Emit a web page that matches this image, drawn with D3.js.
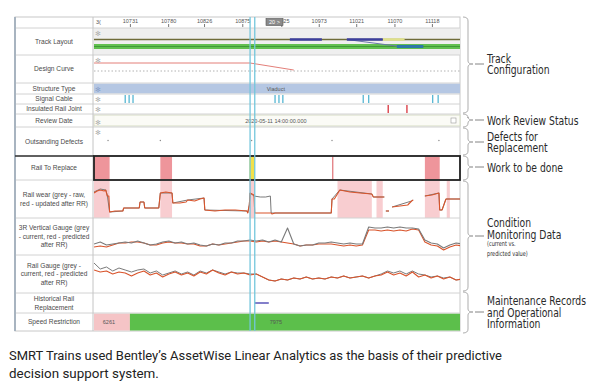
<!DOCTYPE html>
<html>
<head>
<meta charset="utf-8">
<script src="https://cdn.jsdelivr.net/npm/d3@7"></script>
<style>
    body { margin: 0; background: #fff; }
    svg { display: block; font-family: "Liberation Sans", Arial, sans-serif; }
</style>
</head>
<body>
<svg id="chart" width="600" height="388"></svg>
<script>
// ---- data (chainage in metres) ----
var rowLabels = [
    [],
    ["Track Layout"],
    ["Design Curve"],
    ["Structure Type"],
    ["Signal Cable"],
    ["Insulated Rail Joint"],
    ["Review Date"],
    ["Outsanding Defects"],
    ["Rail To Replace"],
    ["Rail wear (grey - raw,", "red - updated after RR)"],
    ["3R Vertical Gauge (grey", "- current, red - predicted", "after RR)"],
    ["Rail Gauge (grey -", "current, red - predicted", "after RR)"],
    ["Historical Rail", "Replacement"],
    ["Speed Restriction"]
];

var tickValues = [10731, 10780, 10826, 10875, 10925, 10973, 11021, 11070, 11118];
var cursorChainage = [10885, 10891];

var trackMainBlue = [[10936, 10977], [11009, 11055]];
var trackHighlight = [[11055, 11083]];
var trackBranch = [[11009, 11077]];
var trackGreenTeal = [[11073, 11107]];

var designCurve = [[10685, 0], [10885, 0], [10941, -7]];
var structureType = [[10685, 11154, "Viaduct"]];
var signalCable = [10725, 10730, 10735, 10917, 10922, 10927, 11030, 11037, 11119, 11126];
var insulatedJoints = [11062, 11086];
var reviewDate = "2020-05-11 14:00:00.000";
var defects = [10703, 10770, 10887, 10990, 11127];

var railToReplace = [[10685, 10705], [10770, 10785], [11109, 11128]];
var railToReplacePending = [[10884, 10891]];
var railToReplaceLine = [10991];
var wearHighlights = [[10685, 10705], [10770, 10785], [10884, 10891], [10997, 11041], [11047, 11055], [11109, 11128], [11137, 11141]];

// rail wear, red = updated after RR, grey = raw (null = gap)
var wearUpdated = [
    [10685, 25], [10689, 27], [10693, 28], [10698, 27], [10700, 28], [10702, 22], [10704, 22], [10705, 6],
    [10712, 7], [10722, 7], [10723, 10], [10743, 10], [10744, 16], [10749, 16], [10750, 10], [10768, 10],
    [10770, 25], [10777, 26], [10785, 25], [10786, 15], [10795, 15], [10803, 16], [10805, 18], [10814, 17],
    [10821, 19], [10826, 20], [10827, 8], [10840, 7], [10853, 8], [10866, 8], [10881, 7], [10882, 5],
    [10884, 13], [10885, 25], [10890, 23], [10891, 5], [10912, 5], [10913, 4], [10917, 5], [10950, 5],
    [10989, 5], [10990, 19], [10993, 19], [11000, 28], [11013, 26], [11026, 25], [11041, 24], [11043, 21],
    [11057, 21], [11058, null], [11059, 7], [11063, 7], [11065, null], [11067, 11], [11077, 12], [11087, 13],
    [11092, 17], [11094, 18], [11100, null], [11109, 22], [11118, 23], [11127, 25], [11128, 8], [11131, 8],
    [11136, 19], [11154, 19]
];
var wearRaw = [
    [10685, 26], [10693, 29], [10700, 28], [10702, 23], [10705, 6], [10722, 7], [10723, 10], [10743, 10],
    [10744, 16], [10749, 16], [10750, 10], [10768, 10], [10770, 25], [10785, 25], [10786, 15], [10805, 18],
    [10826, 20], [10827, 8], [10881, 7], [10882, 5], [10884, 13], [10885, 25], [10890, 22], [10898, 21],
    [10905, 21], [10911, 22], [10912, 5], [10989, 5], [10990, 19], [11000, 28], [11041, 24], [11043, 21],
    [11057, 21], [11058, null], [11059, 7], [11063, 7], [11065, null], [11067, 11], [11092, 17], [11094, 18],
    [11100, null], [11109, 22], [11127, 25], [11128, 8], [11131, 8], [11136, 19], [11154, 19]
];

// gauge measurement chainages
var gaugeChainage = [
    10685, 10693, 10701, 10709, 10717, 10725, 10733, 10741, 10749, 10757, 10765, 10773, 10781, 10789, 10797,
    10805, 10813, 10821, 10829, 10837, 10845, 10853, 10861, 10869, 10877, 10885, 10893, 10901, 10909, 10917,
    10925, 10933, 10941, 10949, 10957, 10965, 10973, 10981, 10989, 10997, 11005, 11013, 11021, 11029, 11037,
    11045, 11053, 11061, 11069, 11077, 11085, 11093, 11101, 11109, 11117, 11125, 11133, 11141, 11149, 11157
];
var vertGaugeCurrent = [
    11, 13, 10, 11, 12, 13, 12, 14, 12, 10, 11, 13, 14, 12, 13, 11, 12, 10, 9, 11,
    10, 12, 12, 14, 14, 15, 14, 15, 13, 15, 13, 27, 11, 9, 10, 10, 12, 12, 13, 12,
    11, 12, 11, 11, 28, 27, 27, 28, 27, 28, 27, 27, 26, 15, 12, 11, 7, 10, 12, 11
];
var vertGaugePredicted = [
    8, 9, 8, 10, 12, 12, 13, 13, 12, 10, 10, 12, 13, 12, 12, 11, 11, 9, 9, 11,
    10, 11, 12, 13, 14, 14, 13, 14, 13, 14, 13, 12, 11, 9, 10, 10, 11, 11, 11, 10,
    9, 10, 9, 10, 25, 25, 24, 25, 24, 25, 24, 26, 25, 13, 10, 9, 5, 8, 10, 9
];
var railGaugeCurrent = [
    30, 24, 26, 22, 25, 23, 21, 23, 24, 20, 22, 18, 20, 22, 19, 21, 18, 22, 20, 23,
    21, 19, 21, 20, 20, 19, 19, 16, 13, 12, 14, 13, 15, 14, 16, 14, 15, 14, 16, 15,
    17, 15, 16, 17, 15, 17, 19, 22, 20, 22, 19, 22, 19, 18, 16, 17, 15, 16, 13, 14
];
var railGaugePredicted = [
    23, 21, 22, 19, 21, 20, 17, 20, 22, 18, 20, 16, 19, 21, 18, 20, 17, 21, 19, 23,
    20, 18, 21, 19, 20, 18, 19, 16, 13, 12, 14, 13, 15, 14, 16, 14, 15, 14, 16, 15,
    17, 15, 16, 17, 15, 17, 18, 21, 18, 20, 17, 21, 16, 18, 15, 17, 14, 16, 13, 14
];

var historicalReplacement = [[10891, 10909]];
var speedRestriction = [[10685, 10731, "6261"], [10731, 11154, "7975"]];

var groupLabels = [
    { lines: ["Track", "Configuration"], span: [17, 113], tip: 64 },
    { lines: ["Work Review Status"], span: [114, 127], tip: 120 },
    { lines: ["Defects for", "Replacement"], span: [128, 155], tip: 142 },
    { lines: ["Work to be done"], span: [156, 180], tip: 167 },
    { lines: ["Condition", "Monitoring Data"], sub: ["(current vs.", "predicted value)"], span: [181, 291], tip: 236 },
    { lines: ["Maintenance Records", "and Operational", "Information"], span: [292, 333], tip: 312 }
];
var caption = [
    "SMRT Trains used Bentley\u2019s AssetWise Linear Analytics as the basis of their predictive",
    "decision support system."
];

// ---- layout ----
var rowHeights = [11, 27, 28, 11, 10, 10, 13, 29, 24, 38, 37, 38, 20, 18];
var panelLeft = 15, labelRight = 93, plotLeft = 94, plotRight = 460;
var rowTop = [];
var acc = 17;
rowHeights.forEach(function (h) { rowTop.push(acc); acc += h; });
var panelBottom = acc;
function rowMid(i) { return rowTop[i] + rowHeights[i] / 2; }
function rowBot(i) { return rowTop[i] + rowHeights[i]; }

var svg = d3.select("#chart");
var x = d3.scaleLinear().domain([10685, 11154]).range([plotLeft, plotRight]);

svg.append("defs").append("clipPath").attr("id", "plotClip")
    .append("rect").attr("x", plotLeft).attr("y", 17).attr("width", plotRight - plotLeft).attr("height", panelBottom - 17);

// backgrounds
svg.append("rect").attr("x", panelLeft).attr("y", 17).attr("width", plotRight - panelLeft).attr("height", panelBottom - 17)
    .attr("fill", "#fff").attr("stroke", "#c8c8c8");
svg.append("rect").attr("x", plotLeft).attr("y", rowTop[1]).attr("width", plotRight - plotLeft).attr("height", rowHeights[1])
    .attr("fill", "#efefef");
svg.append("rect").attr("x", plotLeft).attr("y", rowTop[6] + 1).attr("width", plotRight - plotLeft).attr("height", rowHeights[6] - 2)
    .attr("fill", "#fbfbf6").attr("stroke", "#d6dcc4");

var plot = svg.append("g").attr("clip-path", "url(#plotClip)");

// structure type band
plot.selectAll(".struct").data(structureType).enter().append("rect")
    .attr("x", function (d) { return x(d[0]); })
    .attr("width", function (d) { return x(d[1]) - x(d[0]); })
    .attr("y", rowTop[3] + 0.5).attr("height", rowHeights[3] - 1)
    .attr("fill", "#b5c7e3");
plot.selectAll(".structText").data(structureType).enter().append("text")
    .attr("x", x(10918)).attr("y", rowMid(3) + 2)
    .attr("text-anchor", "middle").attr("font-size", 5.5).attr("fill", "#555")
    .text(function (d) { return d[2]; });

// rail wear highlight spans
plot.selectAll(".wearHi").data(wearHighlights).enter().append("rect")
    .attr("x", function (d) { return x(d[0]); })
    .attr("width", function (d) { return x(d[1]) - x(d[0]); })
    .attr("y", rowTop[9]).attr("height", rowHeights[9])
    .attr("fill", "#f8cdd0");

// rail to replace spans
plot.selectAll(".rtr").data(railToReplace).enter().append("rect")
    .attr("x", function (d) { return x(d[0]); })
    .attr("width", function (d) { return x(d[1]) - x(d[0]); })
    .attr("y", rowTop[8]).attr("height", rowHeights[8])
    .attr("fill", "#ee959b");
plot.selectAll(".rtrP").data(railToReplacePending).enter().append("rect")
    .attr("x", function (d) { return x(d[0]); })
    .attr("width", function (d) { return x(d[1]) - x(d[0]); })
    .attr("y", rowTop[8]).attr("height", rowHeights[8])
    .attr("fill", "#f2e04a");
plot.selectAll(".rtrL").data(railToReplaceLine).enter().append("line")
    .attr("x1", function (d) { return x(d); }).attr("x2", function (d) { return x(d); })
    .attr("y1", rowTop[8]).attr("y2", rowBot(8))
    .attr("stroke", "#d9545a").attr("stroke-width", 1);

// speed restriction
var speedColors = ["#f5c4c6", "#5cbf4b"];
plot.selectAll(".speed").data(speedRestriction).enter().append("rect")
    .attr("x", function (d) { return x(d[0]); })
    .attr("width", function (d) { return x(d[1]) - x(d[0]); })
    .attr("y", rowTop[13] + 0.5).attr("height", rowHeights[13] - 1)
    .attr("fill", function (d, i) { return speedColors[i]; });
plot.selectAll(".speedText").data(speedRestriction).enter().append("text")
    .attr("x", function (d, i) { return i == 0 ? x((d[0] + d[1]) / 2) - 3 : x(10918); })
    .attr("y", rowMid(13) + 2)
    .attr("text-anchor", "middle").attr("font-size", 5.5).attr("fill", "#555")
    .text(function (d) { return d[2]; });

// grid lines
rowTop.slice(1).forEach(function (y, i) {
    svg.append("line").attr("x1", panelLeft).attr("x2", plotRight).attr("y1", y).attr("y2", y)
        .attr("stroke", "#d2d2d2").attr("stroke-width", 1);
});
svg.append("line").attr("x1", labelRight).attr("x2", labelRight).attr("y1", 17).attr("y2", panelBottom)
    .attr("stroke", "#c4c4c4");
svg.append("line").attr("x1", panelLeft).attr("x2", panelLeft).attr("y1", 17).attr("y2", panelBottom)
    .attr("stroke", "#a8b4c0").attr("stroke-width", 2);

// row labels
rowLabels.forEach(function (lines, i) {
    var lh = 8.4;
    var y0 = rowMid(i) - (lines.length - 1) * lh / 2 + 2.3;
    var t = svg.append("text").attr("x", (panelLeft + labelRight) / 2).attr("text-anchor", "middle")
        .attr("font-size", 6.6).attr("fill", "#4a4a4a");
    lines.forEach(function (s, j) {
        t.append("tspan").attr("x", (panelLeft + labelRight) / 2).attr("y", y0 + j * lh).text(s);
    });
});

// asterisk markers
[1, 2, 3, 4, 5, 6, 7].forEach(function (i) {
    svg.append("text").attr("x", plotLeft + 1).attr("y", rowTop[i] + (rowHeights[i] > 14 ? 8 : rowHeights[i] - 2))
        .attr("font-family", "DejaVu Sans").attr("font-size", 7)
        .attr("fill", i == 3 ? "#8aa0c8" : "#b0b0b0").text("\u273B");
});

// axis
var axis = d3.axisTop(x).tickValues(tickValues).tickSize(3).tickPadding(1).tickFormat(d3.format("d"));
var axisG = svg.append("g").attr("transform", "translate(0," + (rowBot(0) - 1) + ")").call(axis);
axisG.select(".domain").remove();
axisG.selectAll("text").attr("font-size", 5.5).attr("fill", "#555").attr("font-family", "Liberation Sans, Arial");
axisG.selectAll("line").attr("stroke", "#777");
svg.append("text").attr("x", 96).attr("y", 24).attr("font-size", 5.5).attr("fill", "#555").text("3(");
svg.append("rect").attr("x", 266).attr("y", 18.5).attr("width", 17).attr("height", 7)
    .attr("fill", "#8a8a8a").attr("stroke", "#555").attr("stroke-width", 0.6);
svg.append("text").attr("x", 274.5).attr("y", 24).attr("text-anchor", "middle").attr("font-size", 5.5)
    .attr("fill", "#fff").text("20 >");

// track layout
var trackMainY = rowTop[1] + 11.5, trackGreenY = rowTop[1] + 18.5;
plot.append("line").attr("x1", plotLeft).attr("x2", plotRight).attr("y1", trackMainY).attr("y2", trackMainY)
    .attr("stroke", "#6f6c3a").attr("stroke-width", 1.3);
plot.selectAll(".trkHi").data(trackHighlight).enter().append("line")
    .attr("x1", function (d) { return x(d[0]); }).attr("x2", function (d) { return x(d[1]); })
    .attr("y1", trackMainY).attr("y2", trackMainY)
    .attr("stroke", "#dfe08a").attr("stroke-width", 2.5);
plot.append("rect").attr("x", plotLeft).attr("width", plotRight - plotLeft).attr("y", trackGreenY - 2.5).attr("height", 5)
    .attr("fill", "#62c04f");
plot.append("line").attr("x1", plotLeft).attr("x2", plotRight).attr("y1", trackGreenY).attr("y2", trackGreenY)
    .attr("stroke", "#3f9a38").attr("stroke-width", 1);
plot.selectAll(".trkBr").data(trackBranch).enter().append("line")
    .attr("x1", function (d) { return x(d[0]); }).attr("x2", function (d) { return x(d[1]); })
    .attr("y1", trackMainY).attr("y2", trackGreenY)
    .attr("stroke", "#6a78a8").attr("stroke-width", 1);
plot.selectAll(".trkBlue").data(trackMainBlue).enter().append("line")
    .attr("x1", function (d) { return x(d[0]); }).attr("x2", function (d) { return x(d[1]); })
    .attr("y1", trackMainY).attr("y2", trackMainY)
    .attr("stroke", "#3d3f9e").attr("stroke-width", 2.6);
plot.selectAll(".trkTeal").data(trackGreenTeal).enter().append("line")
    .attr("x1", function (d) { return x(d[0]); }).attr("x2", function (d) { return x(d[1]); })
    .attr("y1", trackGreenY).attr("y2", trackGreenY)
    .attr("stroke", "#2c78a8").attr("stroke-width", 3);

// design curve
var designY = d3.scaleLinear().domain([0, -10]).range([rowTop[2] + 8, rowTop[2] + 18]);
plot.append("line").attr("x1", plotLeft).attr("x2", plotRight)
    .attr("y1", designY(-8)).attr("y2", designY(-8))
    .attr("stroke", "#a0a0a0").attr("stroke-width", 0.8).attr("stroke-dasharray", "1.5,2");
plot.append("path").datum(designCurve)
    .attr("d", d3.line().x(function (d) { return x(d[0]); }).y(function (d) { return designY(d[1]); }))
    .attr("fill", "none").attr("stroke", "#e0706a").attr("stroke-width", 0.9);

// signal cable / insulated joints
plot.selectAll(".sig").data(signalCable).enter().append("line")
    .attr("x1", function (d) { return x(d); }).attr("x2", function (d) { return x(d); })
    .attr("y1", rowTop[4] + 1).attr("y2", rowBot(4) - 1)
    .attr("stroke", "#56b6d2").attr("stroke-width", 1.3);
plot.selectAll(".irj").data(insulatedJoints).enter().append("line")
    .attr("x1", function (d) { return x(d); }).attr("x2", function (d) { return x(d); })
    .attr("y1", rowTop[5] + 1).attr("y2", rowBot(5) - 1)
    .attr("stroke", "#d8333b").attr("stroke-width", 1.3);

// review date
svg.append("text").attr("x", x(10918)).attr("y", rowMid(6) + 2).attr("text-anchor", "middle")
    .attr("font-size", 5.5).attr("fill", "#555").text(reviewDate);
svg.append("rect").attr("x", 451).attr("y", rowMid(6) - 2.5).attr("width", 5).attr("height", 5)
    .attr("fill", "#fff").attr("stroke", "#999").attr("stroke-width", 0.6);

// defects
plot.selectAll(".def").data(defects).enter().append("circle")
    .attr("cx", function (d) { return x(d); }).attr("cy", rowMid(7) - 1).attr("r", 0.7)
    .attr("fill", "#888");

// series lines
function drawSeries(data, yScale, color, width) {
    plot.append("path").datum(data)
        .attr("d", d3.line().defined(function (d) { return d[1] != null; })
            .x(function (d) { return x(d[0]); }).y(function (d) { return yScale(d[1]); }))
        .attr("fill", "none").attr("stroke", color).attr("stroke-width", width)
        .attr("stroke-linejoin", "round");
}
function zipGauge(values) { return gaugeChainage.map(function (c, i) { return [c, values[i]]; }); }

var wearY = d3.scaleLinear().domain([0, 38]).range([rowBot(9), rowTop[9]]);
var vertY = d3.scaleLinear().domain([0, 37]).range([rowBot(10), rowTop[10]]);
var gaugeY = d3.scaleLinear().domain([0, 38]).range([rowBot(11), rowTop[11]]);
var greyLine = "#7a7a7a", redLine = "#d9542b";

drawSeries(wearRaw, wearY, greyLine, 1);
drawSeries(wearUpdated, wearY, redLine, 1.1);
drawSeries(zipGauge(vertGaugePredicted), vertY, redLine, 1.1);
drawSeries(zipGauge(vertGaugeCurrent), vertY, greyLine, 1.1);
drawSeries(zipGauge(railGaugeCurrent), gaugeY, greyLine, 1);
drawSeries(zipGauge(railGaugePredicted), gaugeY, redLine, 1.1);

// historical rail replacement
plot.selectAll(".hist").data(historicalReplacement).enter().append("line")
    .attr("x1", function (d) { return x(d[0]); }).attr("x2", function (d) { return x(d[1]); })
    .attr("y1", rowMid(12)).attr("y2", rowMid(12))
    .attr("stroke", "#5a55b8").attr("stroke-width", 1.5);

// rail to replace frame
svg.append("line").attr("x1", panelLeft).attr("x2", plotLeft).attr("y1", rowTop[8]).attr("y2", rowTop[8])
    .attr("stroke", "#333").attr("stroke-width", 1.5);
svg.append("rect").attr("x", plotLeft).attr("y", rowTop[8]).attr("width", plotRight - plotLeft).attr("height", rowHeights[8])
    .attr("fill", "none").attr("stroke", "#222").attr("stroke-width", 1.8);

// cursor lines
svg.selectAll(".cursor").data(cursorChainage).enter().append("line")
    .attr("x1", function (d) { return x(d); }).attr("x2", function (d) { return x(d); })
    .attr("y1", 17).attr("y2", panelBottom)
    .attr("stroke", "#74c6dc").attr("stroke-width", 1.3);

// group braces and labels (condensed look: squeeze every line by the same factor)
var braceX = 468, noteFont = "DejaVu Sans Condensed, Liberation Sans, sans-serif";
var squeeze = null;
function condensedLine(parent, s, xPos, yPos, size) {
    var t = parent.append("text").attr("x", xPos).attr("y", yPos)
        .attr("font-family", noteFont).attr("font-size", size).attr("fill", "#2a2a2a").text(s);
    var w = t.node().getComputedTextLength();
    t.attr("textLength", w * squeeze).attr("lengthAdjust", "spacingAndGlyphs");
    return t;
}
(function () {
    var probe = svg.append("text").attr("font-family", noteFont).attr("font-size", 12.6).text("Maintenance Records");
    squeeze = 99 / probe.node().getComputedTextLength();
    probe.remove();
})();

groupLabels.forEach(function (g) {
    var y0 = g.span[0], y1 = g.span[1], ym = g.tip;
    var p = "M" + (braceX - 5) + "," + y0 + " Q" + braceX + "," + y0 + " " + braceX + "," + (y0 + 4) +
        " L" + braceX + "," + (ym - 3) + " Q" + braceX + "," + ym + " " + (braceX + 5) + "," + ym +
        " Q" + braceX + "," + ym + " " + braceX + "," + (ym + 3) +
        " L" + braceX + "," + (y1 - 4) + " Q" + braceX + "," + y1 + " " + (braceX - 5) + "," + y1;
    svg.append("path").attr("d", p).attr("fill", "none").attr("stroke", "#a4a4a4").attr("stroke-width", 0.9);
    svg.append("line").attr("x1", braceX + 7).attr("x2", braceX + 16).attr("y1", ym).attr("y2", ym)
        .attr("stroke", "#777").attr("stroke-width", 0.9);
    var lh = 11.8;
    var yStart = ym + 4.5 - (g.lines.length - 1) * lh / 2;
    if (g.sub) yStart = 227;
    g.lines.forEach(function (s, j) {
        condensedLine(svg, s, 487, yStart + j * lh, 12.6);
    });
    if (g.sub) {
        g.sub.forEach(function (s, j) {
            condensedLine(svg, s, 487, 246 + j * 9.5, 6.8);
        });
    }
});

// caption
caption.forEach(function (s, i) {
    var t = svg.append("text").attr("x", 9).attr("y", 360 + i * 17.5)
        .attr("font-family", "Roboto, sans-serif").attr("font-size", 13.4).attr("fill", "#222").text(s);
    if (i == 0) t.attr("textLength", 493).attr("lengthAdjust", "spacingAndGlyphs");
});
</script>
</body>
</html>
